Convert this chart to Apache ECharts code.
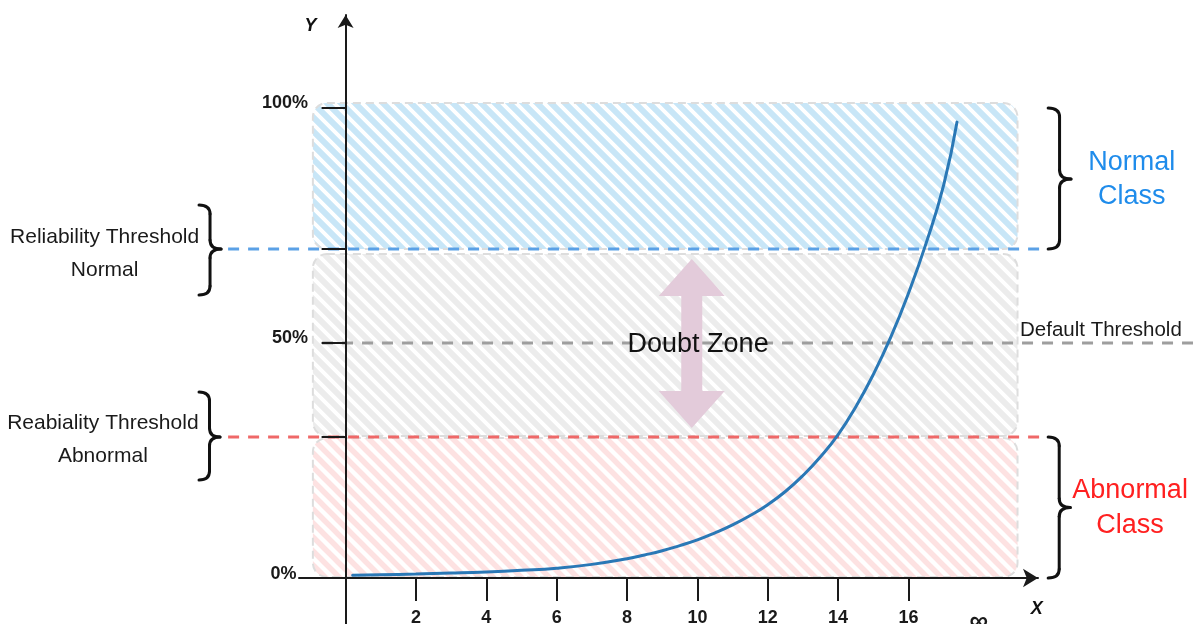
<!DOCTYPE html>
<html>
<head>
<meta charset="utf-8">
<script src="https://cdn.jsdelivr.net/npm/echarts@6/dist/echarts.min.js"></script>
<style>html,body{margin:0;padding:0;background:#fff}#c{width:1193px;height:624px}</style>
</head>
<body>
<div id="c"></div>
<script>
// ---------------- data ----------------
const xTickValues = [2, 4, 6, 8, 10, 12, 14, 16];
const xLabelValues = [2, 4, 6, 8, 10, 12, 14, 16, 18]; // 18 is drawn as the infinity mark
const infinityValue = 18;
const yTickValues = [30, 50, 70, 100];
const yLabelValues = [0, 50, 100];

const curveX = [0.2, 1, 2, 3, 4, 5, 6, 7, 8, 8.5, 9, 9.5, 10, 10.5, 11, 11.5, 12, 12.5, 13, 13.5, 14, 14.5, 15, 15.5, 16, 16.5, 17, 17.38];
const curveY = [0.6, 0.7, 0.85, 1.05, 1.3, 1.65, 2.1, 2.9, 4.1, 4.9, 5.8, 6.9, 8.1, 9.6, 11.3, 13.3, 15.6, 18.4, 21.8, 25.8, 30.5, 36.4, 43.3, 51.3, 60.6, 71.2, 83.6, 97.0];

const thresholdNames = ['Reliability Threshold Normal', 'Default Threshold', 'Reabiality Threshold Abnormal'];
const thresholdValues = [70, 50, 30];

const zoneNames = ['Normal Class', 'Doubt Zone', 'Abnormal Class'];
const zoneLow = [70, 30, 0];
const zoneHigh = [100, 70, 30];

// ---------------- layout / style ----------------
const FONT = '"Liberation Sans", Arial, sans-serif';
const X_MIN = -1.3246, X_MAX = 19.682, Y_MIN = -9.787, Y_MAX = 119.79;
const ZONE_X = [-0.93, 19.1];
const ZONE_PAD = [[-5, 0], [5, -1], [1, -1]];
const ZONE_COLORS = [['#c8e6f7', 6], ['#ececec', 6], ['#fde2e2', 5.5]];
const THR_X = [[-3.34, 19.85], [-0.67, 24.3], [-3.34, 19.85]];
const THR_COLORS = ['#5ba1e6', '#9e9e9e', '#ef6868'];
const BRACES = [
  [-4.167, -3.54, 79.36, 60.2, 70],
  [-4.167, -3.57, 39.6, 20.85, 30],
  [19.97, 20.62, 100, 70, 84.9],
  [19.97, 20.6, 30, 0, 15]
];
const ARROW = { x: 9.84, yTop: 67.9, yBottom: 31.9 };
const TEXTS = [
  { t: 'Reliability Threshold\nNormal', x: -6.85, y: 69.1, size: 21, color: '#1a1a1a', align: 'center', lh: 33 },
  { t: 'Reabiality Threshold\nAbnormal', x: -6.9, y: 29.47, size: 21, color: '#1a1a1a', align: 'center', lh: 33 },
  { t: 'Normal\nClass', x: 22.35, y: 84.84, size: 27, color: '#1f8ceb', align: 'center', lh: 34 },
  { t: 'Abnormal\nClass', x: 22.3, y: 14.79, size: 27, color: '#ff2020', align: 'center', lh: 35 },
  { t: 'Default Threshold', x: 19.17, y: 52.66, size: 20.5, color: '#1a1a1a', align: 'left', lh: 24 },
  { t: 'Doubt Zone', x: 10.02, y: 49.6, size: 27, color: '#111111', align: 'center', lh: 30 },
  { t: 'Y', x: -1.0, y: 117.4, size: 18, color: '#111111', align: 'center', lh: 20, bold: true, italic: true },
  { t: 'X', x: 19.65, y: -6.6, size: 18, color: '#111111', align: 'center', lh: 20, bold: true, italic: true }
];
// tick label placement (pixel offsets from the axis point)
const X_LABEL_DY = 40.5, INF_DY = 44;
const Y_LABEL_DX = -37.5, Y_LABEL_DY = -5, Y0_LABEL_DX = -49, Y0_LABEL_DY = -3.5;

function makeHatch(color, width) {
  const s = 14;
  const c = document.createElement('canvas');
  c.width = s; c.height = s;
  const g = c.getContext('2d');
  g.strokeStyle = color; g.lineWidth = width;
  g.beginPath();
  [-s, 0, s].forEach(function (o) { g.moveTo(o - 3, -3); g.lineTo(o + s + 3, s + 3); });
  g.stroke();
  return { image: c, repeat: 'repeat' };
}
const patterns = ZONE_COLORS.map(function (z) { return makeHatch(z[0], z[1]); });

function braceChildren(x0, x2, yt, yb, ym) {
  const x1 = (x0 + x2) / 2, r = 9;
  const st = { stroke: '#111', lineWidth: 3, fill: 'none', lineCap: 'round' };
  return [
    { type: 'bezierCurve', shape: { x1: x0, y1: yt, cpx1: x1, cpy1: yt, x2: x1, y2: yt + r }, style: st },
    { type: 'line', shape: { x1: x1, y1: yt + r, x2: x1, y2: ym - r }, style: st },
    { type: 'bezierCurve', shape: { x1: x1, y1: ym - r, cpx1: x1, cpy1: ym, x2: x2, y2: ym }, style: st },
    { type: 'bezierCurve', shape: { x1: x2, y1: ym, cpx1: x1, cpy1: ym, x2: x1, y2: ym + r }, style: st },
    { type: 'line', shape: { x1: x1, y1: ym + r, x2: x1, y2: yb - r }, style: st },
    { type: 'bezierCurve', shape: { x1: x1, y1: yb - r, cpx1: x1, cpy1: yb, x2: x0, y2: yb }, style: st }
  ];
}

const tickLabelItems = xLabelValues.map(function (v) { return { axis: 'x', v: v }; })
  .concat(yLabelValues.map(function (v) { return { axis: 'y', v: v }; }));

const chart = echarts.init(document.getElementById('c'), null, { renderer: 'canvas' });
const axisColor = '#1a1a1a';
const option = {
  animation: false,
  backgroundColor: '#ffffff',
  grid: { left: 299, right: 155, top: 15, bottom: 0, containLabel: false, outerBoundsMode: 'none' },
  xAxis: {
    type: 'value', min: X_MIN, max: X_MAX, z: 4,
    axisLine: { show: true, onZero: true, symbol: ['none', 'arrow'], symbolSize: [14, 15], symbolOffset: [0, 0],
      lineStyle: { color: axisColor, width: 2 } },
    axisTick: { show: true, customValues: xTickValues, length: 23, lineStyle: { color: axisColor, width: 2 } },
    axisLabel: { show: false },
    splitLine: { show: false }
  },
  yAxis: {
    type: 'value', min: Y_MIN, max: Y_MAX, z: 4,
    axisLine: { show: true, onZero: true, symbol: ['none', 'arrow'], symbolSize: [12, 13], symbolOffset: [0, 0],
      lineStyle: { color: axisColor, width: 2 } },
    axisTick: { show: true, customValues: yTickValues, length: 24, lineStyle: { color: axisColor, width: 2 } },
    axisLabel: { show: false },
    splitLine: { show: false }
  },
  series: [
    {
      name: 'zones', type: 'custom', z: 1, silent: true,
      data: zoneNames.map(function (n, i) { return [i]; }),
      renderItem: function (params, api) {
        const i = params.dataIndex;
        const p0 = api.coord([ZONE_X[0], zoneHigh[i]]);
        const p1 = api.coord([ZONE_X[1], zoneLow[i]]);
        const y0 = p0[1] + ZONE_PAD[i][0], y1 = p1[1] + ZONE_PAD[i][1];
        return {
          type: 'rect',
          shape: { x: p0[0], y: y0, width: p1[0] - p0[0], height: y1 - y0, r: 14 },
          style: { fill: patterns[i], stroke: '#dddddd', lineWidth: 2, lineDash: [8, 5] }
        };
      }
    },
    {
      name: 'thresholds', type: 'custom', z: 2, silent: true,
      data: thresholdNames.map(function (n, i) { return [i]; }),
      renderItem: function (params, api) {
        const i = params.dataIndex;
        const a = api.coord([THR_X[i][0], thresholdValues[i]]);
        const b = api.coord([THR_X[i][1], thresholdValues[i]]);
        return {
          type: 'line',
          shape: { x1: a[0], y1: a[1], x2: b[0], y2: b[1] },
          style: { stroke: THR_COLORS[i], lineWidth: 3, lineDash: [11, 9], fill: 'none' }
        };
      }
    },
    {
      name: 'doubtArrow', type: 'custom', z: 3, silent: true,
      data: [[0]],
      renderItem: function (params, api) {
        const t = api.coord([ARROW.x, ARROW.yTop]);
        const b = api.coord([ARROW.x, ARROW.yBottom]);
        const cx = t[0], ty = t[1], by = b[1], hw = 33, hh = 37, sw = 10.5;
        return {
          type: 'polygon',
          shape: { points: [[cx, ty], [cx + hw, ty + hh], [cx + sw, ty + hh], [cx + sw, by - hh], [cx + hw, by - hh],
            [cx, by], [cx - hw, by - hh], [cx - sw, by - hh], [cx - sw, ty + hh], [cx - hw, ty + hh]] },
          style: { fill: '#e3cbda', stroke: 'none' }
        };
      }
    },
    {
      name: 'braces', type: 'custom', z: 5, silent: true,
      data: BRACES.map(function (b, i) { return [i]; }),
      renderItem: function (params, api) {
        const d = BRACES[params.dataIndex];
        const p0 = api.coord([d[0], d[2]]);
        const p1 = api.coord([d[1], d[3]]);
        const pm = api.coord([d[0], d[4]]);
        return { type: 'group', children: braceChildren(p0[0], p1[0], p0[1], p1[1], pm[1]) };
      }
    },
    {
      name: 'tickLabels', type: 'custom', z: 7, silent: true,
      data: tickLabelItems.map(function (t, i) { return [i]; }),
      renderItem: function (params, api) {
        const d = tickLabelItems[params.dataIndex];
        if (d.axis === 'x') {
          const p = api.coord([d.v, 0]);
          const inf = d.v === infinityValue;
          return {
            type: 'text', x: p[0], y: p[1] + (inf ? INF_DY : X_LABEL_DY),
            style: { text: inf ? '\u221E' : String(d.v), fill: axisColor, fontSize: inf ? 26 : 18, fontWeight: 'bold',
              fontFamily: FONT, align: 'center', verticalAlign: 'middle' }
          };
        }
        const q = api.coord([0, d.v]);
        const zero = d.v === 0;
        return {
          type: 'text', x: q[0] + (zero ? Y0_LABEL_DX : Y_LABEL_DX), y: q[1] + (zero ? Y0_LABEL_DY : Y_LABEL_DY),
          style: { text: d.v + '%', fill: axisColor, fontSize: 18, fontWeight: 'bold', fontFamily: FONT,
            align: 'right', verticalAlign: 'middle' }
        };
      }
    },
    {
      name: 'texts', type: 'custom', z: 7, silent: true,
      data: TEXTS.map(function (t, i) { return [i]; }),
      renderItem: function (params, api) {
        const d = TEXTS[params.dataIndex];
        const p = api.coord([d.x, d.y]);
        return {
          type: 'text', x: p[0], y: p[1],
          style: {
            text: d.t, fill: d.color, fontSize: d.size, fontFamily: FONT,
            fontWeight: d.bold ? 'bold' : 'normal', fontStyle: d.italic ? 'italic' : 'normal',
            align: d.align, verticalAlign: 'middle', lineHeight: d.lh
          }
        };
      }
    },
    {
      name: 'curve', type: 'line', z: 6, smooth: true, showSymbol: false, symbol: 'none', silent: true,
      data: curveX.map(function (x, i) { return [x, curveY[i]]; }),
      lineStyle: { color: '#2a78b6', width: 3, cap: 'round' }
    }
  ]
};
chart.setOption(option);
</script>
</body>
</html>
